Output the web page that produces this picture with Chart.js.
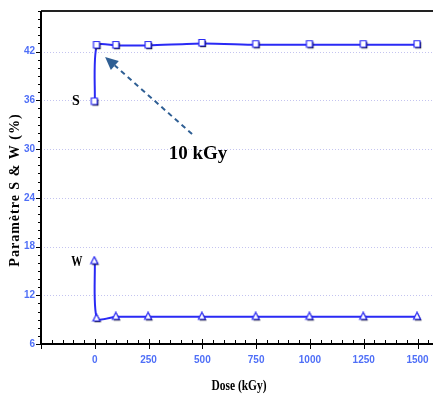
<!DOCTYPE html>
<html>
<head>
<meta charset="utf-8">
<script src="https://cdn.jsdelivr.net/npm/chart.js@4.4.0/dist/chart.umd.min.js"></script>
<style>
  html, body { margin: 0; padding: 0; background: #fff; }
  canvas { display: block; }
</style>
</head>
<body>
<canvas id="chart" width="433" height="397"></canvas>
<script>
// dose points (kGy) and the two measured parameters (%)
var doses = [0, 10, 100, 250, 500, 750, 1000, 1250, 1500];
var paramS = [35.8, 42.75, 42.75, 42.75, 43.0, 42.85, 42.85, 42.85, 42.85];
var paramW = [16.2, 9.15, 9.35, 9.35, 9.35, 9.35, 9.35, 9.35, 9.35];

var xTicks = [0, 250, 500, 750, 1000, 1250, 1500];
var yTicks = [6, 12, 18, 24, 30, 36, 42];

var lineColor = '#2a2af5';
var tickColor = '#4f6ff7';
var arrowColor = '#2f5f94';
var serif = '"Liberation Serif", "Times New Roman", serif';
var narrow = '"Liberation Sans Narrow", "Arial Narrow", sans-serif';

// small markers with a dark drop shadow
function makeMarker(shape) {
    var c = document.createElement('canvas');
    c.width = 11;
    c.height = 11;
    var g = c.getContext('2d');
    function path(dx, dy) {
        g.beginPath();
        if (shape === 'square') {
            g.rect(2 + dx, 1.5 + dy, 6, 6.5);
        } else {
            g.moveTo(5 + dx, 1 + dy);
            g.lineTo(8.5 + dx, 8 + dy);
            g.lineTo(1.5 + dx, 8 + dy);
            g.closePath();
        }
    }
    g.fillStyle = '#111';
    path(1.2, 1.2);
    g.fill();
    g.fillStyle = '#fff';
    g.strokeStyle = lineColor;
    g.lineWidth = 1.2;
    path(0, 0);
    g.fill();
    g.stroke();
    return c;
}

function pairs(ys) {
    return doses.map(function (d, i) { return {x: d, y: ys[i]}; });
}

var decorations = {
    id: 'decorations',
    beforeDatasetsDraw: function (chart) {
        var ctx = chart.ctx;
        var a = chart.chartArea;
        var xs = chart.scales.x;
        var ys = chart.scales.y;
        var right = chart.width;
        ctx.save();

        // dotted horizontal grid at the labelled values
        ctx.strokeStyle = '#c4c4f0';
        ctx.lineWidth = 1;
        ctx.setLineDash([1, 2]);
        yTicks.forEach(function (v) {
            if (v === ys.min) return;
            var py = Math.round(ys.getPixelForValue(v)) + 0.5;
            ctx.beginPath();
            ctx.moveTo(a.left, py);
            ctx.lineTo(right, py);
            ctx.stroke();
        });
        ctx.setLineDash([]);

        // top frame line
        ctx.lineWidth = 2;
        ctx.strokeStyle = '#222';
        ctx.beginPath();
        ctx.moveTo(a.left, a.top);
        ctx.lineTo(right, a.top);
        ctx.stroke();

        // axis lines
        ctx.strokeStyle = '#000';
        ctx.beginPath();
        ctx.moveTo(a.left, a.top);
        ctx.lineTo(a.left, a.bottom);
        ctx.lineTo(right, a.bottom);
        ctx.stroke();

        // y tick marks, minor every 1, major every 6
        ctx.lineWidth = 1;
        for (var v = 6; v <= 47; v++) {
            var py = Math.round(ys.getPixelForValue(v)) + 0.5;
            var len = (v % 6 === 0) ? 5 : 3;
            ctx.beginPath();
            ctx.moveTo(a.left - len, py);
            ctx.lineTo(a.left, py);
            ctx.stroke();
        }

        // x tick marks, minor every 50, major every 250
        for (var d = -250; d <= 1600; d += 50) {
            var px = Math.round(xs.getPixelForValue(d)) + 0.5;
            if (px > right) break;
            ctx.beginPath();
            if (d % 250 === 0) {
                ctx.moveTo(px, a.bottom - 5);
                ctx.lineTo(px, a.bottom + 5);
            } else {
                ctx.moveTo(px, a.bottom - 4);
                ctx.lineTo(px, a.bottom);
            }
            ctx.stroke();
        }
        ctx.restore();
    },
    afterDraw: function (chart) {
        var ctx = chart.ctx;
        var a = chart.chartArea;
        var xs = chart.scales.x;
        var ys = chart.scales.y;
        ctx.save();
        ctx.fillStyle = '#000';
        ctx.textAlign = 'center';
        ctx.textBaseline = 'middle';

        // axis titles
        ctx.save();
        ctx.translate((a.left + chart.width) / 2 + 2, 386);
        ctx.scale(0.82, 1);
        ctx.font = 'bold 14px ' + serif;
        ctx.fillText('Dose (kGy)', 0, 0);
        ctx.restore();

        ctx.save();
        ctx.translate(15, 190);
        ctx.rotate(-Math.PI / 2);
        ctx.font = 'bold 14px ' + serif;
        ctx.letterSpacing = '1px';
        ctx.fillText('Paramètre S & W (%)', 0, 0);
        ctx.restore();

        // series labels beside the first points
        ctx.font = 'bold 14px ' + serif;
        var x0 = xs.getPixelForValue(doses[0]);
        ctx.fillText('S', x0 - 19, ys.getPixelForValue(paramS[0]) - 1);
        ctx.save();
        ctx.translate(x0 - 18, ys.getPixelForValue(paramW[0]) + 1);
        ctx.scale(0.8, 1);
        ctx.fillText('W', 0, 0);
        ctx.restore();

        // annotation text and dashed arrow
        ctx.font = 'bold 19px ' + serif;
        ctx.fillText('10 kGy', xs.getPixelForValue(480), ys.getPixelForValue(29.4));

        var sx = xs.getPixelForValue(452), sy = ys.getPixelForValue(31.85);
        var tx = xs.getPixelForValue(48), ty = ys.getPixelForValue(41.35);
        var ang = Math.atan2(ty - sy, tx - sx);
        var head = 13;
        var bx = tx - head * Math.cos(ang), by = ty - head * Math.sin(ang);
        ctx.strokeStyle = arrowColor;
        ctx.fillStyle = arrowColor;
        ctx.lineWidth = 2;
        ctx.setLineDash([5, 4]);
        ctx.beginPath();
        ctx.moveTo(sx, sy);
        ctx.lineTo(bx, by);
        ctx.stroke();
        ctx.setLineDash([]);
        ctx.beginPath();
        ctx.moveTo(tx, ty);
        ctx.lineTo(bx + 6 * Math.sin(ang), by - 6 * Math.cos(ang));
        ctx.lineTo(bx - 6 * Math.sin(ang), by + 6 * Math.cos(ang));
        ctx.closePath();
        ctx.fill();
        ctx.restore();
    }
};

var ctx = document.getElementById('chart').getContext('2d');
var chart = new Chart(ctx, {
    type: 'line',
    data: {
        datasets: [
            {
                label: 'S',
                data: pairs(paramS),
                borderColor: lineColor,
                borderWidth: 2,
                tension: 0.25,
                pointStyle: makeMarker('square'),
                pointRadius: 4
            },
            {
                label: 'W',
                data: pairs(paramW),
                borderColor: lineColor,
                borderWidth: 2,
                tension: 0.25,
                pointStyle: makeMarker('triangle'),
                pointRadius: 4
            }
        ]
    },
    options: {
        responsive: false,
        animation: false,
        events: [],
        layout: {autoPadding: false, padding: {top: 11, left: 0, right: 0, bottom: 0}},
        plugins: {legend: {display: false}, tooltip: {enabled: false}},
        scales: {
            x: {
                type: 'linear',
                min: -250,
                max: 1572,
                afterFit: function (s) {
                    s.height = 53;
                    s.paddingLeft = 0;
                    s.paddingRight = 0;
                },
                afterBuildTicks: function (s) {
                    s.ticks = xTicks.map(function (v) { return {value: v}; });
                },
                grid: {display: false, drawTicks: false},
                border: {display: false},
                ticks: {
                    autoSkip: false,
                    maxRotation: 0,
                    padding: 10,
                    color: tickColor,
                    font: {family: narrow, size: 10, weight: 'bold'},
                    callback: function (v) { return String(v); }
                }
            },
            y: {
                min: 6,
                max: 47,
                afterFit: function (s) {
                    s.width = 41;
                    s.paddingTop = 0;
                    s.paddingBottom = 0;
                },
                afterBuildTicks: function (s) {
                    s.ticks = yTicks.map(function (v) { return {value: v}; });
                },
                grid: {display: false, drawTicks: false},
                border: {display: false},
                ticks: {
                    padding: 6,
                    color: tickColor,
                    font: {family: narrow, size: 10, weight: 'bold'},
                    callback: function (v) { return String(v); }
                }
            }
        }
    },
    plugins: [decorations]
});
</script>
</body>
</html>
